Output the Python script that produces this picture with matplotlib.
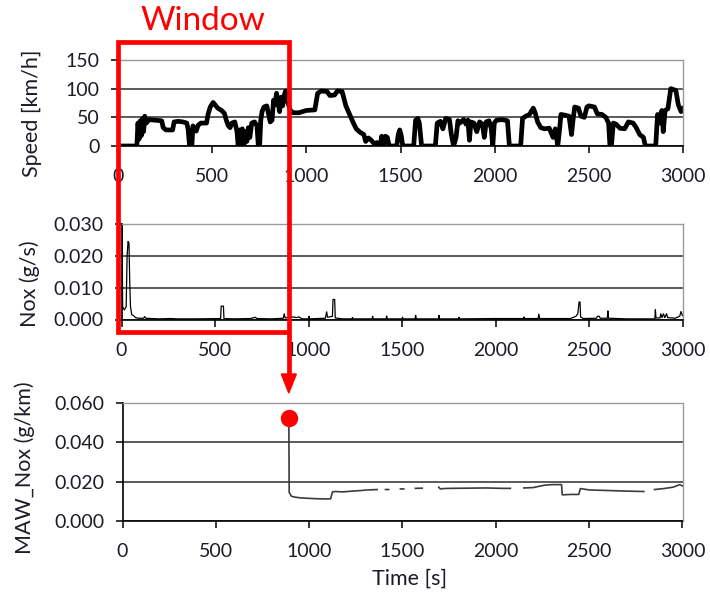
import numpy as np
import matplotlib.pyplot as plt
from matplotlib.lines import Line2D
from matplotlib.patches import Polygon
from matplotlib.ticker import FormatStrFormatter

plt.rcParams['font.family'] = ['Lato', 'DejaVu Sans']

# vehicle speed over the trip
speed_t = [0, 100, 106, 112, 118, 124, 130, 136, 142, 150, 165, 200, 232, 240, 255, 290,
           298, 320, 345, 365, 372, 380, 392, 398, 405, 415, 425, 440, 470, 478, 490, 505,
           515, 530, 550, 565, 575, 585, 595, 605, 620, 632, 638, 645, 652, 660, 668, 676,
           684, 692, 700, 710, 725, 738, 745, 752, 758, 765, 775, 790, 800, 808, 818, 826,
           834, 842, 850, 858, 866, 874, 882, 890, 900, 915, 930, 960, 1000, 1045, 1060, 1080,
           1110, 1125, 1150, 1165, 1190, 1210, 1235, 1250, 1265, 1285, 1305, 1315, 1330, 1345, 1360, 1375,
           1392, 1400, 1410, 1420, 1430, 1440, 1480, 1488, 1496, 1504, 1512, 1570, 1580, 1592, 1600, 1612,
           1685, 1695, 1712, 1725, 1740, 1760, 1770, 1782, 1795, 1805, 1815, 1835, 1848, 1858, 1866, 1874,
           1890, 1905, 1920, 1935, 1945, 1955, 1970, 1982, 1990, 1998, 2010, 2040, 2068, 2078, 2138, 2148,
           2165, 2185, 2205, 2215, 2228, 2245, 2265, 2290, 2310, 2322, 2335, 2345, 2352, 2370, 2395, 2408,
           2416, 2425, 2445, 2458, 2476, 2490, 2500, 2530, 2545, 2570, 2590, 2605, 2612, 2620, 2630, 2645,
           2665, 2690, 2710, 2735, 2750, 2770, 2790, 2800, 2808, 2855, 2865, 2878, 2888, 2895, 2905, 2920,
           2935, 2945, 2962, 2975, 2990, 3000]
speed_kmh = [0, 0, 40, 12, 44, 18, 48, 25, 52, 40, 46, 45, 44, 32, 28, 28,
             42, 43, 42, 40, 30, 0, 0, 35, 30, 26, 36, 40, 40, 55, 68, 76,
             72, 66, 62, 57, 45, 36, 32, 40, 42, 25, 0, 28, 5, 30, 0, 25,
             8, 32, 15, 40, 42, 35, 0, 0, 45, 60, 68, 70, 55, 42, 45, 80,
             72, 92, 75, 60, 85, 70, 88, 96, 78, 62, 58, 58, 62, 63, 92, 96,
             95, 88, 89, 96, 95, 70, 51, 40, 30, 24, 20, 8, 14, 10, 4, 6,
             0, 17, 0, 17, 15, 0, 0, 20, 28, 18, 0, 0, 45, 48, 40, 0,
             0, 40, 43, 30, 48, 46, 20, 0, 15, 44, 40, 46, 38, 45, 10, 42,
             40, 25, 42, 38, 15, 42, 44, 30, 0, 40, 45, 46, 44, 0, 0, 48,
             52, 55, 66, 58, 42, 32, 30, 31, 15, 30, 0, 30, 55, 54, 52, 20,
             45, 68, 66, 52, 50, 68, 70, 68, 56, 55, 50, 40, 0, 0, 40, 38,
             31, 30, 42, 40, 33, 20, 15, 0, 0, 0, 55, 40, 62, 25, 62, 65,
             100, 99, 97, 72, 60, 65]

# instantaneous NOx mass flow
nox_t = [0, 3, 6, 15, 25, 30, 35, 40, 44, 48, 55, 65, 75, 90, 118, 124,
         130, 160, 200, 260, 300, 400, 530, 533, 545, 548, 600, 690, 715, 725, 800, 865,
         870, 875, 920, 935, 950, 965, 1000, 1003, 1006, 1090, 1097, 1102, 1128, 1131, 1140, 1143,
         1180, 1232, 1235, 1238, 1340, 1343, 1346, 1415, 1418, 1421, 1500, 1503, 1506, 1570,
         1573, 1576, 1695, 1698, 1701, 1802, 1805, 1808, 2000, 2150, 2153, 2156, 2228, 2232, 2236, 2400,
         2430, 2440, 2447, 2452, 2455, 2470, 2540, 2545, 2555, 2560, 2598, 2601, 2604, 2700, 2852, 2855,
         2858, 2880, 2884, 2890, 2898, 2905, 2915, 2920, 2960, 2985, 2992, 3000]
nox_gs = [0.0, 0.030, 0.004, 0.003, 0.004, 0.020, 0.0245, 0.024, 0.012, 0.004, 0.0015, 0.0012, 0.0006, 0.0004, 0.0004, 0.0009,
          0.0004, 0.0003, 0.0002, 0.0003, 0.0002, 0.0002, 0.0003, 0.0042, 0.0042, 0.0003, 0.0002, 0.0003, 0.0007, 0.0003, 0.0002, 0.0004,
          0.0018, 0.0005, 0.0008, 0.0006, 0.0008, 0.0002, 0.0002, 0.0010, 0.0002, 0.0004, 0.0024, 0.0007, 0.0010, 0.0063, 0.0063, 0.0005,
          0.0002, 0.0002, 0.0006, 0.0002, 0.0002, 0.0010, 0.0002, 0.0002, 0.0011, 0.0002, 0.0002, 0.0007, 0.0002, 0.0002,
          0.0013, 0.0002, 0.0002, 0.0013, 0.0002, 0.0002, 0.0007, 0.0002, 0.0003, 0.0003, 0.0008, 0.0003, 0.0003, 0.0017, 0.0003, 0.0003,
          0.0010, 0.0018, 0.0055, 0.0055, 0.0008, 0.0003, 0.0004, 0.0010, 0.0010, 0.0004, 0.0004, 0.0027, 0.0004, 0.0002, 0.0002, 0.0031,
          0.0005, 0.0005, 0.0018, 0.0006, 0.0018, 0.0006, 0.0018, 0.0006, 0.0004, 0.0010, 0.0025, 0.0012]

# moving averaging window NOx (nan = window not valid)
maw_t = [891, 893, 905, 920, 950, 1000, 1050, 1100, 1115, 1125, 1140, 1180, 1230, 1280, 1310, np.nan,
         1320, 1364, np.nan, 1409, 1426, np.nan, 1489, 1507, np.nan, 1569, 1605, np.nan,
         1694, 1702, 1720, 1760, 1850, 1950, 2030, 2078, np.nan,
         2150, 2200, 2260, 2300, 2352, 2356, 2400, 2444, 2453, 2500, 2600, 2700, 2793, np.nan,
         2850, 2900, 2950, 2985, 3000]
maw_gkm = [0.0525, 0.0145, 0.0126, 0.0122, 0.0118, 0.0115, 0.0113, 0.0112, 0.0113, 0.0148, 0.0150, 0.0148, 0.0152, 0.0155, 0.0158, np.nan,
           0.0158, 0.0160, np.nan, 0.0160, 0.0160, np.nan, 0.0163, 0.0163, np.nan, 0.0166, 0.0167, np.nan,
           0.0172, 0.0163, 0.0165, 0.0166, 0.0167, 0.0168, 0.0166, 0.0166, np.nan,
           0.0168, 0.0170, 0.0182, 0.0185, 0.0185, 0.0133, 0.0135, 0.0135, 0.0165, 0.0158, 0.0155, 0.0152, 0.0150, np.nan,
           0.0160, 0.0165, 0.0172, 0.0185, 0.0178]

W, H = 710, 593
fig = plt.figure(figsize=(W / 100, H / 100), dpi=100)
text_col = '#1c1c28'


def add_axes_px(left, top, right, bottom):
    return fig.add_axes([left / W, 1 - bottom / H, (right - left) / W, (bottom - top) / H])


def style(ax, ymax, yticks, fmt=None):
    ax.set_xlim(0, 3000)
    ax.set_ylim(0, ymax)
    ax.set_xticks(range(0, 3001, 500))
    ax.set_yticks(yticks)
    if fmt:
        ax.yaxis.set_major_formatter(FormatStrFormatter(fmt))
    ax.yaxis.grid(True, color='#2e2e2e', lw=1.1)
    ax.set_axisbelow(True)
    for s in ['top', 'right']:
        ax.spines[s].set_color('#9a9a9a')
        ax.spines[s].set_linewidth(1.0)
    for s in ['left', 'bottom']:
        ax.spines[s].set_color('black')
        ax.spines[s].set_linewidth(1.2)
    ax.tick_params(direction='out', length=5, width=1.1, color='black',
                   labelcolor=text_col, labelsize=14)
    ax.tick_params(axis='x', pad=11)
    ax.tick_params(axis='y', pad=8)


ax1 = add_axes_px(118, 60, 683, 146)
ax2 = add_axes_px(121.5, 224, 682.5, 319.5)
ax3 = add_axes_px(122.5, 403, 682.5, 521)

ax1.plot(speed_t, speed_kmh, color='black', lw=3.4, solid_joinstyle='round')
style(ax1, 150, [0, 50, 100, 150])

ax2.plot(nox_t, nox_gs, color='black', lw=0.9)
style(ax2, 0.030, [0, 0.010, 0.020, 0.030], '%.3f')

ax3.plot(maw_t, maw_gkm, color='#3c3c3c', lw=1.2)
style(ax3, 0.060, [0, 0.020, 0.040, 0.060], '%.3f')
ax3.plot(maw_t[0], maw_gkm[0], 'o', color='#ff0000', ms=11.5, clip_on=False, zorder=6)

# axis titles
ax1.set_ylabel('Speed [km/h]', fontsize=15.5, color=text_col, va='center')
ax1.yaxis.set_label_coords((32 - 118) / 565, (146 - 113) / 86)
ax2.set_ylabel('Nox (g/s)', fontsize=15.5, color=text_col, va='center')
ax2.yaxis.set_label_coords((30 - 121.5) / 561, (319.5 - 284) / 95.5)
ax3.set_ylabel('MAW_Nox (g/km)', fontsize=15.5, color=text_col, va='center')
ax3.yaxis.set_label_coords((25 - 122.5) / 560, (521 - 468) / 118)
ax3.set_xlabel('Time [s]', fontsize=15.5, color=text_col)
ax3.xaxis.set_label_coords((410 - 122.5) / 560, -(579 - 521) / 118)
ax3.xaxis.label.set_va('center')

# window frame: from the start of the trip to the first averaged value
fig.canvas.draw()
x_left = ax1.transData.transform((0, 0))[0] / W
x_right = ax3.transData.transform((maw_t[0], 0))[0] / W
y_top = 1 - 42 / H
y_bot = 1 - 332 / H
y_head = 1 - 374 / H
y_tip = 1 - 393 / H
red = '#ff0000'
fig.add_artist(Line2D([x_right, x_right, x_left, x_left, x_right],
                      [y_head, y_top, y_top, y_bot, y_bot],
                      color=red, lw=3.4, solid_joinstyle='miter', solid_capstyle='butt'))
fig.add_artist(Polygon([[x_right - 7.5 / W, y_head], [x_right + 7.5 / W, y_head], [x_right, y_tip]],
                       closed=True, color=red, transform=fig.transFigure))
fig.text(203 / W, 1 - 21 / H, 'Window', color=red, fontsize=24, ha='center', va='center')

fig.savefig('out.png', dpi=100)
